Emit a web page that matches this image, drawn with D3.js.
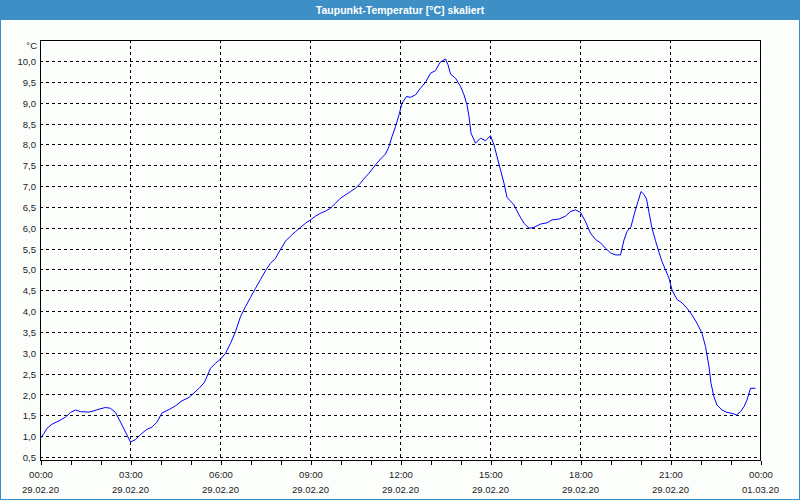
<!DOCTYPE html>
<html>
<head>
<meta charset="utf-8">
<script src="https://cdn.jsdelivr.net/npm/d3@7"></script>
<style>
  html, body { margin: 0; padding: 0; background: #fff; }
  svg { display: block; }
  text { font-family: "Liberation Sans", Arial, sans-serif; }
</style>
</head>
<body>
<svg id="chart" width="800" height="500"></svg>
<script>
// ---- data ----
const title = "Taupunkt-Temperatur [°C] skaliert";
const unitLabel = "°C";
// minutes since 29.02.20 00:00
const minutes = [0,7,13,23,37,50,60,70,80,97,107,117,130,140,150,160,170,180,190,200,212,223,233,243,257,270,283,297,307,317,327,330,340,350,360,370,380,390,400,410,420,430,440,450,460,470,480,490,500,510,520,530,540,550,560,570,580,590,600,610,620,630,640,645,657,670,680,690,697,703,710,717,723,732,740,750,760,770,780,790,799,810,815,820,830,840,847,853,857,861,870,880,890,900,907,913,920,927,933,947,957,967,977,987,1000,1013,1023,1037,1050,1060,1070,1080,1090,1100,1110,1120,1130,1140,1150,1160,1167,1173,1181,1188,1195,1201,1207,1212,1217,1223,1230,1237,1243,1250,1257,1263,1273,1283,1293,1303,1313,1323,1330,1337,1341,1347,1353,1363,1373,1383,1392,1400,1407,1413,1420,1430];
const dewpoint = [0.96,1.08,1.20,1.30,1.38,1.47,1.58,1.64,1.60,1.59,1.62,1.66,1.70,1.68,1.58,1.35,1.11,0.87,0.93,1.05,1.17,1.23,1.35,1.57,1.65,1.74,1.86,1.94,2.05,2.16,2.29,2.36,2.64,2.76,2.86,3.00,3.24,3.52,3.88,4.12,4.34,4.56,4.77,4.98,5.16,5.28,5.49,5.69,5.81,5.92,6.02,6.12,6.20,6.29,6.36,6.41,6.48,6.60,6.72,6.80,6.88,6.96,7.08,7.16,7.32,7.52,7.66,7.78,7.96,8.20,8.44,8.72,9.00,9.16,9.14,9.20,9.36,9.50,9.72,9.78,9.98,10.06,9.92,9.70,9.60,9.40,9.20,8.96,8.68,8.28,8.04,8.16,8.10,8.22,8.00,7.72,7.40,7.08,6.74,6.56,6.32,6.12,6.00,6.02,6.10,6.13,6.20,6.22,6.29,6.40,6.44,6.38,6.16,5.88,5.73,5.65,5.52,5.41,5.36,5.36,5.72,5.92,6.04,6.36,6.64,6.88,6.81,6.70,6.38,6.00,5.70,5.42,5.20,5.00,4.80,4.52,4.29,4.21,4.08,3.92,3.72,3.48,3.16,2.68,2.28,1.95,1.76,1.64,1.58,1.56,1.52,1.60,1.72,1.88,2.16,2.16];
const xTickTimes = ["00:00","03:00","06:00","09:00","12:00","15:00","18:00","21:00","00:00"];
const xTickDates = ["29.02.20","29.02.20","29.02.20","29.02.20","29.02.20","29.02.20","29.02.20","29.02.20","01.03.20"];
const yTicks = [0.5,1.0,1.5,2.0,2.5,3.0,3.5,4.0,4.5,5.0,5.5,6.0,6.5,7.0,7.5,8.0,8.5,9.0,9.5,10.0];

// ---- layout ----
const W = 800, H = 500;
const plot = {left: 40, right: 760, top: 40, bottom: 460};
const svg = d3.select("#chart");

svg.append("rect").attr("x", 0.5).attr("y", 0.5).attr("width", W - 1).attr("height", H - 1)
  .attr("fill", "#fcfefc").attr("stroke", "#3d8fc6").attr("stroke-width", 1);
svg.append("rect").attr("x", 0).attr("y", 0).attr("width", W).attr("height", 20).attr("fill", "#3d8fc6");
svg.append("text").attr("x", W / 2).attr("y", 13.5).attr("text-anchor", "middle")
  .attr("fill", "#ffffff").attr("font-size", "10.5px").attr("font-weight", "bold").text(title);

const x = d3.scaleLinear().domain([0, 1440]).range([plot.left + 0.5, plot.right + 0.5]);
const y = d3.scaleLinear().domain([0.5, 10]).range([457.5, 61.5]);

const g = svg.append("g");
// horizontal grid
g.selectAll("line.hg").data(yTicks).enter().append("line")
  .attr("x1", plot.left).attr("x2", plot.right)
  .attr("y1", d => Math.round(y(d) - 0.5) + 0.5).attr("y2", d => Math.round(y(d) - 0.5) + 0.5)
  .attr("stroke", "#000").attr("stroke-dasharray", "3,3").attr("shape-rendering", "crispEdges");
// vertical grid every 3h
const vGrid = d3.range(180, 1440, 180);
g.selectAll("line.vg").data(vGrid).enter().append("line")
  .attr("x1", d => x(d)).attr("x2", d => x(d))
  .attr("y1", plot.top).attr("y2", plot.bottom)
  .attr("stroke", "#000").attr("stroke-dasharray", "3,3").attr("shape-rendering", "crispEdges");

// frame
svg.append("rect").attr("x", plot.left + 0.5).attr("y", plot.top + 0.5)
  .attr("width", plot.right - plot.left).attr("height", plot.bottom - plot.top)
  .attr("fill", "none").attr("stroke", "#000").attr("shape-rendering", "crispEdges");

// y axis labels
const yAxis = d3.axisLeft(y).tickValues(yTicks).tickSize(0).tickPadding(4)
  .tickFormat(d => d3.format(".1f")(d).replace(".", ","));
const ya = svg.append("g").attr("transform", `translate(${plot.left},0)`).call(yAxis);
ya.select(".domain").remove();
ya.selectAll("text").attr("font-size", "9.5px").attr("fill", "#1a1a1a")
  .attr("font-family", "'Liberation Sans', Arial, sans-serif");
svg.append("text").attr("x", 37).attr("y", 49).attr("text-anchor", "end")
  .attr("font-size", "9.5px").attr("fill", "#1a1a1a").text(unitLabel);

// x axis: hourly ticks, labels every 3h
const xAxis = d3.axisBottom(x).tickValues(d3.range(0, 1441, 60)).tickSize(4)
  .tickFormat(d => d % 180 === 0 ? xTickTimes[d / 180] : "");
const xa = svg.append("g").attr("transform", `translate(0,${plot.bottom + 0.5})`).call(xAxis);
xa.select(".domain").remove();
xa.selectAll("line").attr("stroke", "#000").attr("shape-rendering", "crispEdges");
xa.selectAll("text").attr("font-size", "9.5px").attr("fill", "#1a1a1a")
  .attr("font-family", "'Liberation Sans', Arial, sans-serif").attr("dy", "0").attr("y", 17);
svg.append("g").selectAll("text").data(xTickDates).enter().append("text")
  .attr("x", (d, i) => x(i * 180)).attr("y", 493).attr("text-anchor", "middle")
  .attr("font-size", "9.5px").attr("fill", "#1a1a1a").text(d => d);

// line
const pts = minutes.map((m, i) => [m, dewpoint[i]]);
svg.append("path").datum(pts)
  .attr("fill", "none").attr("stroke", "#0000ff").attr("stroke-width", 1)
  .attr("d", d3.line().x(d => x(d[0])).y(d => y(d[1])));
</script>
</body>
</html>
